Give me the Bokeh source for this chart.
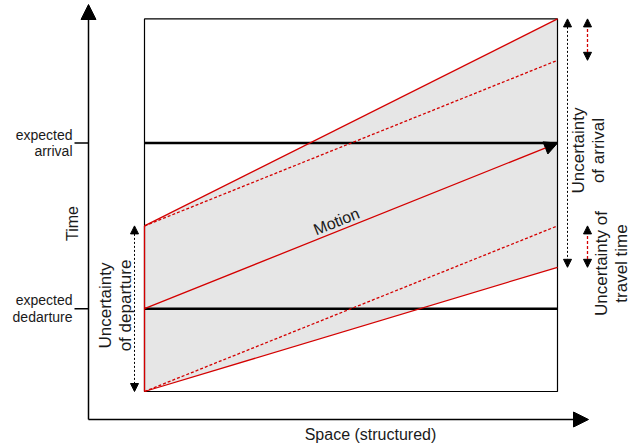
import math
from bokeh.plotting import figure
from bokeh.models import Range1d, Arrow, NormalHead, Label
from bokeh.embed import file_html
from bokeh.resources import INLINE

# ---------------- data (conceptual units) ----------------
space = [0.0, 1.0]                 # start / end of the route
departure = [0.0, 1.0, 2.0]        # earliest, expected, latest departure time
travel_time = [1.5, 2.0, 2.5]      # shortest, expected, longest travel time
tick_times = [1.0, 3.0]            # expected departure, expected arrival
tick_labels = ["expected\ndedarture", "expected\narrival"]
x_title = "Space (structured)"
y_title = "Time"
motion_label = "Motion"
dep_label = "Uncertainty\nof departure"
arr_label = "Uncertainty\nof arrival"
tt_label = "Uncertainty of\ntravel time"

# ---------------- layout (pixel geometry of the picture) ----------------
X0, PXS = 144.0, 413.0   # pixel x of space=0, pixels per space unit
Y0, PXT = 391.0, 82.8    # pixel y of time=0, pixels per time unit
def sx(px):
    return (px - X0) / PXS
def ty(py):
    return (Y0 - py) / PXT

W, H = 638, 446
p = figure(width=W, height=H, output_backend="svg", toolbar_location=None,
           x_range=Range1d(sx(0), sx(W)), y_range=Range1d(ty(H), ty(0)),
           x_axis_type=None, y_axis_type=None, min_border=0,
           min_border_left=0, min_border_right=0, min_border_top=0, min_border_bottom=0)
p.outline_line_color = None
p.grid.visible = False
p.background_fill_color = "white"

RED = "#d40000"
FONT = "Liberation Sans"
s0, s1 = space
d_lo, d_exp, d_hi = departure
t_min, t_exp, t_max = travel_time
t_top = d_hi + t_max

# grey uncertainty region
p.patch([s0, s0, s1, s1], [d_lo, d_hi, d_hi + t_max, d_lo + t_min],
        fill_color="#e6e6e6", line_color=None)

# box
p.quad(left=[s0], right=[s1], bottom=[d_lo], top=[t_top], fill_color=None,
       line_color="black", line_width=1.2)

# horizontal expected-time lines
p.segment(x0=[s0, s0], y0=tick_times, x1=[s1, s1], y1=tick_times,
          line_color="black", line_width=2.5)

# red boundary lines
p.segment(x0=[s0, s0], y0=[d_hi, d_lo], x1=[s1, s1], y1=[d_hi + t_max, d_lo + t_min],
          line_color=RED, line_width=1.3)
p.segment(x0=[s0, s0], y0=[d_hi, d_lo], x1=[s1, s1], y1=[d_hi + t_exp, d_lo + t_exp],
          line_color=RED, line_width=1.3, line_dash="3 2")
p.segment(x0=[s0], y0=[d_lo], x1=[s0], y1=[d_hi], line_color=RED, line_width=1.3)

# motion arrow
p.add_layout(Arrow(x_start=s0, y_start=d_exp, x_end=s1, y_end=d_exp + t_exp,
                   line_color=RED, line_width=1.3,
                   end=NormalHead(size=13, fill_color="black", line_color="black", line_width=1)))

# axes
ax_s, ax_t = sx(88), ty(419)
p.add_layout(Arrow(x_start=ax_s, y_start=ax_t, x_end=ax_s, y_end=ty(4),
                   line_color="black", line_width=1.5,
                   end=NormalHead(size=15, fill_color="black", line_color="black", line_width=1)))
p.add_layout(Arrow(x_start=ax_s, y_start=ax_t, x_end=sx(588), y_end=ax_t,
                   line_color="black", line_width=1.5,
                   end=NormalHead(size=15, fill_color="black", line_color="black", line_width=1)))

# ticks
p.segment(x0=[sx(74)] * 2, y0=tick_times, x1=[ax_s] * 2, y1=tick_times,
          line_color="black", line_width=1.5)
for t, lab in zip(tick_times, tick_labels):
    p.add_layout(Label(x=sx(72), y=t, text=lab, text_align="right", text_baseline="middle",
                       text_font=FONT, text_font_size="14px", text_color="#1a1a1a",
                       text_line_height=1.05))

# uncertainty double arrows
def dbl(x, ya, yb, color, dash, lw=1.0):
    p.add_layout(Arrow(x_start=x, y_start=ya, x_end=x, y_end=yb,
                       line_color=color, line_width=lw, line_dash=dash,
                       start=NormalHead(size=8, fill_color="black", line_color="black", line_width=1),
                       end=NormalHead(size=8, fill_color="black", line_color="black", line_width=1)))

dbl(sx(134), d_hi, d_lo, "black", "2 2")
dbl(sx(567), t_top, d_lo + t_min, "black", "2 2")
dbl(sx(587), d_hi + t_max, d_hi + t_exp, RED, "3 2", 1.3)
dbl(sx(587), d_lo + t_exp, d_lo + t_min, RED, "3 2", 1.3)

# texts
def lab(x, y, text, size, angle=0.0, lh=1.1):
    p.add_layout(Label(x=x, y=y, text=text, angle=angle, text_align="center",
                       text_baseline="middle", text_font=FONT, text_font_size=size,
                       text_color="#1a1a1a", text_line_height=lh))

lab(sx(72), ty(223), y_title, "16px", math.pi / 2)
lab(sx(370), ty(434), x_title, "16px")
lab(sx(115), ty(305), dep_label, "17px", math.pi / 2)
lab(sx(588), ty(150), arr_label, "17px", math.pi / 2)
lab(sx(611), ty(263), tt_label, "17px", math.pi / 2)
ang = math.atan((d_exp + t_exp - d_exp) * PXT / ((s1 - s0) * PXS))
lab(sx(336), ty(221), motion_label, "16px", ang)

open("out.html", "w").write(file_html(p, INLINE))
